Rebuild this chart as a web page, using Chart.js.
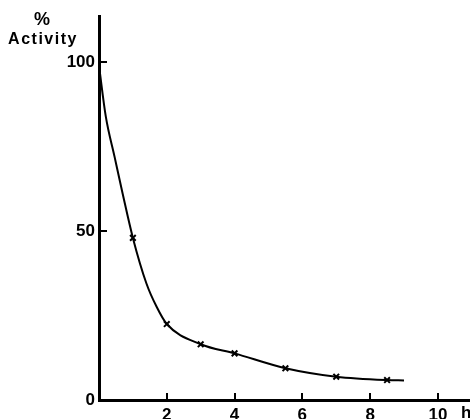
<!DOCTYPE html>
<html>
<head>
<meta charset="utf-8">
<script src="https://cdn.jsdelivr.net/npm/chart.js@4"></script>
<style>
  html, body { margin: 0; padding: 0; background: #fff; overflow: hidden; }
  #wrap { width: 470px; height: 419px; }
  canvas { display: block; }
</style>
</head>
<body>
<div id="wrap"><canvas id="myChart" width="470" height="419"></canvas></div>
<script>
// valores
let horas = [1, 2, 3, 4, 5.5, 7, 8.5];
let actividad = [48, 22.5, 16.5, 13.8, 9.4, 6.9, 5.9];
// trazo de la curva (leido a mano sobre la imagen)
let curvaHoras = [0, 0.2, 0.46, 0.7, 1, 1.4, 1.7, 2, 3, 4, 5.5, 7, 8.5, 9];
let curvaActividad = [99, 84, 72, 61, 48, 34.5, 27.6, 22.5, 16.5, 13.8, 9.4, 6.9, 5.9, 5.8];
let ticksX = [2, 4, 6, 8, 10];
let ticksY = [0, 50, 100];

const fuente = { family: 'Liberation Sans', weight: 'bold', size: 17 };

const puntosCurva = curvaHoras.map((h, i) => ({ x: h, y: curvaActividad[i] }));
const puntosMedidos = horas.map((h, i) => ({ x: h, y: actividad[i] }));

// ejes, marcas de escala hacia adentro y textos sueltos
const extras = {
    id: 'extras',
    afterDraw(chart) {
        const ctx = chart.ctx;
        const sx = chart.scales.x;
        const sy = chart.scales.y;
        const area = chart.chartArea;
        const izq = Math.round(area.left);
        const abajo = Math.round(area.bottom);
        ctx.save();
        ctx.fillStyle = '#000';
        // ejes
        ctx.fillRect(izq - 1, Math.round(area.top), 3, abajo - Math.round(area.top) + 2);
        ctx.fillRect(izq - 1, abajo - 1, 470 - izq + 1, 3);
        // marcas
        for (let t of sx.ticks) {
            let px = Math.round(sx.getPixelForValue(t.value));
            ctx.fillRect(px - 1, abajo - 7, 2, 7);
        }
        for (let t of sy.ticks) {
            if (t.value == 0) continue;
            let py = Math.round(sy.getPixelForValue(t.value));
            ctx.fillRect(izq, py - 1, 8, 2);
        }
        ctx.textAlign = 'center';
        ctx.textBaseline = 'middle';
        ctx.font = 'bold 18px "Liberation Sans"';
        ctx.fillText('%', 42, 20);
        ctx.font = 'bold 16px "Liberation Sans"';
        ctx.letterSpacing = '1.5px';
        ctx.fillText('Activity', 43, 40);
        ctx.letterSpacing = '0px';
        ctx.textAlign = 'left';
        ctx.textBaseline = 'top';
        ctx.font = 'bold 17px "Liberation Sans"';
        ctx.fillText('h', 461, abajo + 5);
        ctx.restore();
    }
};

const grafico = new Chart(document.getElementById('myChart').getContext('2d'), {
    type: 'scatter',
    data: {
        datasets: [{
            data: puntosCurva,
            showLine: true,
            cubicInterpolationMode: 'monotone',
            borderColor: '#000',
            borderWidth: 2,
            pointRadius: 0
        }, {
            data: puntosMedidos,
            showLine: false,
            pointStyle: 'crossRot',
            pointRadius: 4,
            borderColor: '#000',
            borderWidth: 2
        }]
    },
    options: {
        responsive: false,
        animation: false,
        layout: { padding: { top: 15, left: 0, right: 0, bottom: 0 } },
        plugins: { legend: { display: false }, tooltip: { enabled: false } },
        scales: {
            x: {
                type: 'linear',
                min: 0,
                max: 10.77,
                afterBuildTicks: (s) => { s.ticks = ticksX.map(v => ({ value: v })); },
                afterFit: (s) => { s.height = 19; },
                grid: { display: false, drawTicks: false },
                border: { display: false },
                ticks: { color: '#000', font: fuente, padding: 5, maxRotation: 0 }
            },
            y: {
                type: 'linear',
                min: 0,
                max: 114,
                afterBuildTicks: (s) => { s.ticks = ticksY.map(v => ({ value: v })); },
                afterFit: (s) => { s.width = 99; },
                grid: { display: false, drawTicks: false },
                border: { display: false },
                ticks: { color: '#000', font: fuente, padding: 4 }
            }
        }
    },
    plugins: [extras]
});
</script>
</body>
</html>
